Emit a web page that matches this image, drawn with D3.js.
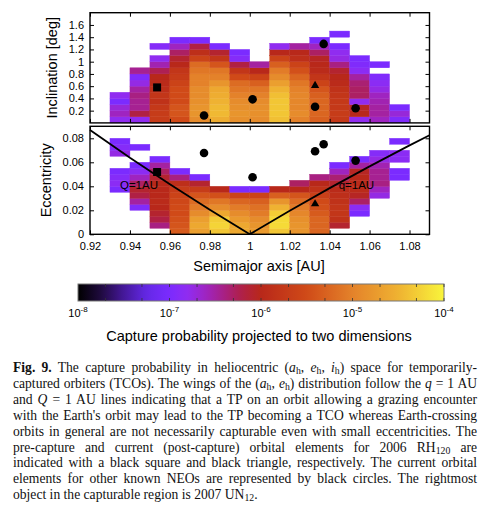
<!DOCTYPE html>
<html>
<head>
<meta charset="utf-8">
<script src="https://cdn.jsdelivr.net/npm/d3@7"></script>
<style>
  body { margin: 0; background: #fff; }
  #fig { position: relative; width: 495px; height: 515px; overflow: hidden; }
  svg text { font-family: "Liberation Sans", Arial, sans-serif; fill: #000; }
  .caption { position: absolute; left: 13px; top: 360px; width: 464px;
    font-family: "Liberation Serif", "Times New Roman", serif; font-size: 13px;
    line-height: 15.9px; color: #111; }
  .caption div { text-align: left; }
  .caption div.just { text-align: justify; text-align-last: justify; }
  .caption .sb { font-size: 0.72em; vertical-align: -0.22em; line-height: 0; }
</style>
</head>
<body>
<div id="fig"></div>
<script>
// semimajor axis bins (left edge, width 0.01 AU)
const aBins = [0.93, 0.94, 0.95, 0.96, 0.97, 0.98, 0.99, 1.00, 1.01, 1.02, 1.03, 1.04, 1.05, 1.06, 1.07];

// log10 capture probability, inclination bins of 0.1 deg starting at 0 (null = empty)
const incLogP = [
  [-6.8, -6.6, -6.7, -7.0, -6.8],
  [-6.8, -6.2, -6.45, -6.45, -6.4, -6.5, -6.75, -6.95, -6.45],
  [-5.7, -5.7, -5.75, -5.85, -5.8, -5.9, -5.95, -6.0, -6.25, -6.55, -6.8, null, -6.9],
  [-5.5, -5.4, -5.4, -5.5, -5.5, -5.5, -5.6, -5.7, -5.8, -6.0, -6.1, -6.3, -6.6, -7.0],
  [-4.9, -4.8, -4.8, -4.85, -4.9, -4.9, -5.0, -5.0, -5.1, -5.2, -5.6, -5.9, -6.2, -7.0],
  [-4.55, -4.45, -4.45, -4.5, -4.55, -4.6, -4.8, -5.0, -5.1, -5.4, -5.8, -6.1, -7.0],
  [-4.85, -4.8, -4.85, -4.9, -5.0, -5.1, -5.2, -5.5, -5.8, -6.2, -6.9, -7.0],
  [-4.9, -4.85, -4.85, -4.9, -5.0, -5.1, -5.3, -5.6, -6.0, -6.5],
  [-4.4, -4.35, -4.35, -4.35, -4.4, -4.5, -4.7, -4.9, -5.05, -5.3, -5.6, -6.0, -6.8],
  [-5.0, -4.9, -4.95, -4.95, -4.95, -5.0, -5.1, -5.25, -5.45, -5.6, -5.9, -6.0, -6.5],
  [-5.3, -5.25, -5.25, -5.25, -5.3, -5.4, -5.6, -5.8, -5.95, -6.0, -6.05, -6.3, -6.6, -7.0],
  [-5.75, -5.7, -5.75, -5.75, -5.8, -5.85, -5.95, -6.0, -6.1, -6.4, -6.75, -6.8, -7.0, null, -7.0],
  [-6.8, -6.0, -6.05, -6.8, -6.3, -6.3, -6.35, -6.5, -6.85, -6.95, -7.0],
  [-6.6, -6.5, -6.5, -6.55, -6.6, -6.75, -6.85, -6.95, null, -7.0],
  [-6.95, -6.7, -7.0]
];

// log10 capture probability, eccentricity bins of 0.005 starting at 0
const eccLogP = [
  [null, null, null, null, null, null, null, -7.0, -6.85, -6.9, -7.0, null, null, -6.75, -6.9, -7.0],
  [null, null, null, null, -6.95, -6.5, -6.2, -6.1, -6.3, -6.6, -6.85, -7.0, null, null, -7.0],
  [null, -6.4, -6.2, -6.1, -6.0, -5.95, -6.0, -6.0, -6.0, -6.1, -6.3, -6.5, -7.0],
  [-5.35, -5.4, -5.45, -5.5, -5.5, -5.55, -5.6, -5.7, -5.9, -6.4, -7.0],
  [-4.7, -4.6, -4.7, -4.9, -5.05, -5.2, -5.4, -5.7, -6.1, -7.0],
  [-4.35, -4.25, -4.3, -4.6, -4.9, -5.1, -5.45, -6.0],
  [-4.6, -4.6, -4.75, -4.9, -5.05, -5.25, -5.6, -7.0],
  [-4.75, -4.8, -4.9, -5.05, -5.15, -5.3, -5.6, -7.0],
  [-4.35, -4.2, -4.2, -4.3, -4.5, -4.8, -5.3, -6.0],
  [-4.8, -4.8, -4.85, -4.95, -5.05, -5.2, -5.4, -6.0, -6.3],
  [-5.25, -5.25, -5.25, -5.35, -5.45, -5.5, -5.65, -5.85, -6.0, -6.4],
  [null, -6.1, -5.85, -5.8, -5.8, -5.85, -5.9, -5.95, -6.1, -6.35, -6.6, -7.0],
  [null, null, null, -7.0, -6.85, -6.3, -6.05, -5.95, -5.95, -6.0, -6.05, -6.5, -7.0],
  [null, null, null, null, null, null, -6.75, -6.6, -6.4, -6.45, -6.45, -6.55, -6.75, -6.9],
  [null, null, null, null, null, null, null, null, null, -7.0, -7.0, null, -6.85, -6.85, null, -7.0]
];

// 2006 RH120 (pre-capture square, current triangle) and other NEOs (circles)
const rhPre = { a: 0.9536, inc: 0.58, ecc: 0.0519 };
const rhNow = { a: 1.0327, inc: 0.61, ecc: 0.0253 };
const neoA = [0.9771, 1.0014, 1.037, 1.0327, 1.053];
const neoInc = [0.12, 0.385, 1.29, 0.265, 0.24];
const neoEcc = [0.0678, 0.0475, 0.075, 0.0692, 0.0614];

// Q = 1 AU and q = 1 AU lines (a, e)
const bigQLine = [[0.92, 0.087], [0.94, 0.0638], [0.96, 0.0417], [0.98, 0.0204], [1.0, 0]];
const smallQLine = [[1.0, 0], [1.02, 0.0196], [1.04, 0.0385], [1.06, 0.0566], [1.08, 0.0741], [1.09, 0.0826]];
const lineLabels = [["Q=1AU", 0.935, 0.0378], ["q=1AU", 1.0445, 0.0378]];

// ticks
const aTicks = [0.92, 0.94, 0.96, 0.98, 1.0, 1.02, 1.04, 1.06, 1.08];
const incTicks = [0.2, 0.4, 0.6, 0.8, 1.0, 1.2, 1.4, 1.6];
const eccTicks = [0, 0.02, 0.04, 0.06, 0.08];
const cbTicks = [-8, -7, -6, -5, -4];

// palette (log10 p -> colour)
const palPos = [-8, -7.75, -7.5, -7.25, -7.0, -6.8, -6.6, -6.4, -6.2, -6.0, -5.5, -5.0, -4.5, -4.0];
const palCol = ["#000000", "#1f0a3e", "#45189a", "#6428e6", "#7b2bff", "#902cf0", "#9f24c0", "#a82082",
  "#b02044", "#b8281a", "#d04a18", "#e4822a", "#efb232", "#f9f53b"];

const captionLines = [
  '<b>Fig. 9.</b> The capture probability in heliocentric (<i>a</i><span class="sb">h</span>, <i>e</i><span class="sb">h</span>, <i>i</i><span class="sb">h</span>) space for temporarily-',
  'captured orbiters (TCOs). The wings of the (<i>a</i><span class="sb">h</span>, <i>e</i><span class="sb">h</span>) distribution follow the <i>q</i> = 1 AU',
  'and <i>Q</i> = 1 AU lines indicating that a TP on an orbit allowing a grazing encounter',
  "with the Earth's orbit may lead to the TP becoming a TCO whereas Earth-crossing",
  'orbits in general are not necessarily capturable even with small eccentricities. The',
  'pre-capture and current (post-capture) orbital elements for 2006 RH<span class="sb">120</span> are',
  'indicated with a black square and black triangle, respectively. The current orbital',
  'elements for other known NEOs are represented by black circles. The rightmost',
  'object in the capturable region is 2007 UN<span class="sb">12</span>.'
];

const width = 495, height = 515;
const color = d3.scaleLinear().domain(palPos).range(palCol).interpolate(d3.interpolateRgb).clamp(true);

const svg = d3.select("#fig").append("svg")
  .attr("width", width).attr("height", height)
  .style("position", "absolute").style("left", 0).style("top", 0);

const x = d3.scaleLinear().domain([0.92, 1.09]).range([90, 429.5]);
const yInc = d3.scaleLinear().domain([0, 1.8]).range([122.9, 12.7]);
const yEcc = d3.scaleLinear().domain([0, 0.09]).range([234.3, 126.3]);
const fmt = d3.format("~g");

function flatten(grid, step) {
  const out = [];
  grid.forEach((col, c) => col.forEach((v, r) => {
    if (v != null) out.push({ a: aBins[c], lo: r * step, hi: (r + 1) * step, v: v });
  }));
  return out;
}

function drawCells(g, cells, y) {
  g.selectAll("rect")
    .data(cells)
    .join("rect")
    .attr("x", d => x(d.a))
    .attr("y", d => y(d.hi))
    .attr("width", d => x(d.a + 0.01) - x(d.a))
    .attr("height", d => y(d.lo) - y(d.hi))
    .attr("fill", d => color(d.v))
    .attr("stroke", d => color(d.v))
    .attr("stroke-width", 0.4);
}

function drawFrame(y, yTicks, showX, showYZeroLabel) {
  const g = svg.append("g");
  const [y0, y1] = y.range();
  const yFmt = d => (d === 0 && !showYZeroLabel) ? "" : fmt(d);

  g.append("g").attr("transform", `translate(${x.range()[0]},0)`)
    .call(d3.axisLeft(y).tickValues(yTicks).tickSizeInner(-4).tickSizeOuter(0).tickPadding(6).tickFormat(yFmt));
  g.append("g").attr("transform", `translate(${x.range()[1]},0)`)
    .call(d3.axisRight(y).tickValues(yTicks).tickSizeInner(-4).tickSizeOuter(0).tickFormat(""));
  g.append("g").attr("transform", `translate(0,${y1})`)
    .call(d3.axisTop(x).tickValues(aTicks).tickSizeInner(-4).tickSizeOuter(0).tickFormat(""));
  g.append("g").attr("transform", `translate(0,${y0})`)
    .call(d3.axisBottom(x).tickValues(aTicks).tickSizeInner(-4).tickSizeOuter(0).tickPadding(7.5)
      .tickFormat(showX ? fmt : ""));

  g.selectAll(".domain").remove();
  g.selectAll(".tick line").attr("stroke", "#000").attr("stroke-width", 1);
  g.selectAll(".tick text").style("font-size", "11px").attr("fill", "#000");

  g.append("rect")
    .attr("x", x.range()[0]).attr("y", y1)
    .attr("width", x.range()[1] - x.range()[0]).attr("height", y0 - y1)
    .attr("fill", "none").attr("stroke", "#000").attr("stroke-width", 1.4);
}

function drawMarkers(g, y, key) {
  g.selectAll("circle")
    .data(neoA.map((a, i) => [a, key === "inc" ? neoInc[i] : neoEcc[i]]))
    .join("circle")
    .attr("cx", d => x(d[0])).attr("cy", d => y(d[1])).attr("r", 4.3)
    .attr("fill", "#000");
  g.append("path")
    .attr("d", d3.symbol(d3.symbolSquare, 64)())
    .attr("transform", `translate(${x(rhPre.a)},${y(rhPre[key])})`)
    .attr("fill", "#000");
  g.append("path")
    .attr("d", d3.symbol(d3.symbolTriangle, 30)())
    .attr("transform", `translate(${x(rhNow.a)},${y(rhNow[key])})`)
    .attr("fill", "#000");
}

// ---------- top panel : inclination ----------
const topG = svg.append("g");
drawCells(topG.append("g"), flatten(incLogP, 0.1), yInc);
drawMarkers(topG.append("g"), yInc, "inc");
drawFrame(yInc, incTicks, false, false);

// ---------- bottom panel : eccentricity ----------
const botG = svg.append("g");
drawCells(botG.append("g"), flatten(eccLogP, 0.005), yEcc);

const line = d3.line().x(d => x(d[0])).y(d => yEcc(d[1]));
[bigQLine, smallQLine].forEach(pts => {
  botG.append("path").attr("d", line(pts))
    .attr("fill", "none").attr("stroke", "#000").attr("stroke-width", 1.8);
});
botG.selectAll(".qlabel")
  .data(lineLabels)
  .join("text")
  .attr("class", "qlabel")
  .attr("x", d => x(d[1])).attr("y", d => yEcc(d[2]))
  .style("font-size", "11.5px")
  .text(d => d[0]);
drawMarkers(botG.append("g"), yEcc, "ecc");
drawFrame(yEcc, eccTicks, true, true);

// axis titles
svg.append("text")
  .attr("transform", `translate(51.5,${(yInc.range()[0] + yInc.range()[1]) / 2}) rotate(-90)`)
  .attr("text-anchor", "middle").attr("dominant-baseline", "central")
  .style("font-size", "14.5px").text("Inclination [deg]");
svg.append("text")
  .attr("transform", `translate(46,${(yEcc.range()[0] + yEcc.range()[1]) / 2}) rotate(-90)`)
  .attr("text-anchor", "middle").attr("dominant-baseline", "central")
  .style("font-size", "14.5px").text("Eccentricity");
svg.append("text")
  .attr("x", 259).attr("y", 270.5)
  .attr("text-anchor", "middle")
  .style("font-size", "14.5px").text("Semimajor axis [AU]");

/* ------------------------------ COLOUR BAR ------------------------------ */
const cb = d3.scaleLinear().domain([-8, -4]).range([78, 444]);
const cbTop = 284, cbBot = 301;

const grad = svg.append("defs").append("linearGradient").attr("id", "cbgrad");
grad.selectAll("stop")
  .data(d3.range(0, 1.0001, 0.02))
  .join("stop")
  .attr("offset", d => d)
  .attr("stop-color", d => color(-8 + 4 * d));

svg.append("rect")
  .attr("x", cb(-8)).attr("y", cbTop)
  .attr("width", cb(-4) - cb(-8)).attr("height", cbBot - cbTop)
  .attr("fill", "url(#cbgrad)")
  .attr("stroke", "#777").attr("stroke-width", 1);

const minor = [];
cbTicks.slice(0, -1).forEach(t => [Math.log10(2), Math.log10(5), 1].forEach(m => minor.push(t + m)));
const cbTickG = svg.append("g");
cbTickG.selectAll("line.tt")
  .data(minor)
  .join("line").attr("class", "tt")
  .attr("x1", d => cb(d)).attr("x2", d => cb(d))
  .attr("y1", cbTop).attr("y2", cbTop + 3)
  .attr("stroke", "#333").attr("stroke-width", 0.8);
cbTickG.selectAll("line.bt")
  .data(minor)
  .join("line").attr("class", "bt")
  .attr("x1", d => cb(d)).attr("x2", d => cb(d))
  .attr("y1", cbBot - 3).attr("y2", cbBot)
  .attr("stroke", "#333").attr("stroke-width", 0.8);

const cbLab = svg.selectAll(".cblab")
  .data(cbTicks)
  .join("text")
  .attr("class", "cblab")
  .attr("x", d => cb(d)).attr("y", 316.5)
  .attr("text-anchor", "middle")
  .style("font-size", "11px");
cbLab.append("tspan").text("10");
cbLab.append("tspan").attr("dy", -5).style("font-size", "8px").text(d => "-" + Math.abs(d));

svg.append("text")
  .attr("x", 259).attr("y", 340.5)
  .attr("text-anchor", "middle")
  .style("font-size", "14.5px")
  .text("Capture probability projected to two dimensions");

/* ------------------------------ CAPTION ------------------------------ */
const cap = d3.select("#fig").append("div").attr("class", "caption");
const spans = cap.selectAll("div")
  .data(captionLines)
  .join("div")
  .append("span")
  .html(d => d);

// shrink the font until the widest line fits, then justify
const maxW = d3.max(spans.nodes(), n => n.getBoundingClientRect().width);
const fs = Math.min(13.6, 13 * 462 / maxW);
cap.style("font-size", fs + "px");
cap.selectAll("div").classed("just", (d, i) => i < captionLines.length - 1);
</script>
</body>
</html>
